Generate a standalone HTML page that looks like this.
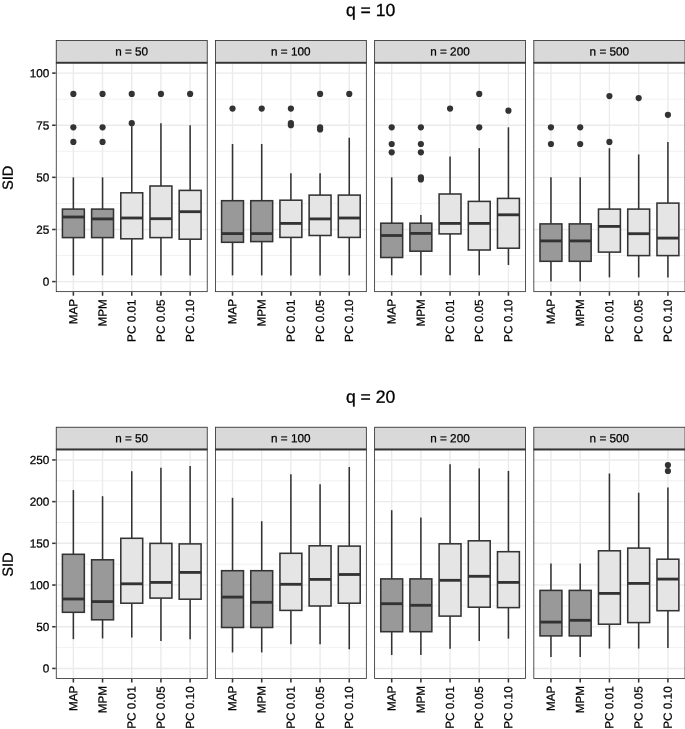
<!DOCTYPE html>
<html><head><meta charset="utf-8"><title>SID boxplots</title>
<style>
html,body{margin:0;padding:0;background:#fff;}
body{width:685px;height:729px;overflow:hidden;}
text{stroke:#000;stroke-width:0.25px;} text.t{stroke-width:0.3px;} text.yl{stroke-width:0.3px;}
svg{display:block;will-change:transform;font-family:"Liberation Sans",Arial,Helvetica,sans-serif;}
</style></head><body>
<svg width="685" height="729" viewBox="0 0 685 729">
<rect width="685" height="729" fill="#fff"/>
<text transform="translate(370.6,16) rotate(0.05)" text-anchor="middle" font-size="17.6" fill="#000" class="t">q = 10</text>
<text transform="translate(12.7,177.85) rotate(-89.95)" text-anchor="middle" font-size="14.67" fill="#000" class="yl">SID</text>
<line x1="52.18" x2="55.85" y1="281.6" y2="281.6" stroke="#333" stroke-width="1.55"/>
<text transform="translate(49.25,285.8) rotate(0.05)" text-anchor="end" font-size="11.73" fill="#000">0</text>
<line x1="52.18" x2="55.85" y1="229.48" y2="229.48" stroke="#333" stroke-width="1.55"/>
<text transform="translate(49.25,233.68) rotate(0.05)" text-anchor="end" font-size="11.73" fill="#000">25</text>
<line x1="52.18" x2="55.85" y1="177.35" y2="177.35" stroke="#333" stroke-width="1.55"/>
<text transform="translate(49.25,181.55) rotate(0.05)" text-anchor="end" font-size="11.73" fill="#000">50</text>
<line x1="52.18" x2="55.85" y1="125.23" y2="125.23" stroke="#333" stroke-width="1.55"/>
<text transform="translate(49.25,129.43) rotate(0.05)" text-anchor="end" font-size="11.73" fill="#000">75</text>
<line x1="52.18" x2="55.85" y1="73.1" y2="73.1" stroke="#333" stroke-width="1.55"/>
<text transform="translate(49.25,77.3) rotate(0.05)" text-anchor="end" font-size="11.73" fill="#000">100</text>
<rect x="55.85" y="62.65" width="151.8" height="229.4" fill="#fff"/>
<line x1="55.85" x2="207.65" y1="255.54" y2="255.54" stroke="#ebebeb" stroke-width="0.71"/>
<line x1="55.85" x2="207.65" y1="203.41" y2="203.41" stroke="#ebebeb" stroke-width="0.71"/>
<line x1="55.85" x2="207.65" y1="151.29" y2="151.29" stroke="#ebebeb" stroke-width="0.71"/>
<line x1="55.85" x2="207.65" y1="99.16" y2="99.16" stroke="#ebebeb" stroke-width="0.71"/>
<line x1="55.85" x2="207.65" y1="281.6" y2="281.6" stroke="#ebebeb" stroke-width="1.42"/>
<line x1="55.85" x2="207.65" y1="229.48" y2="229.48" stroke="#ebebeb" stroke-width="1.42"/>
<line x1="55.85" x2="207.65" y1="177.35" y2="177.35" stroke="#ebebeb" stroke-width="1.42"/>
<line x1="55.85" x2="207.65" y1="125.23" y2="125.23" stroke="#ebebeb" stroke-width="1.42"/>
<line x1="55.85" x2="207.65" y1="73.1" y2="73.1" stroke="#ebebeb" stroke-width="1.42"/>
<line x1="73.37" x2="73.37" y1="62.65" y2="292.05" stroke="#ebebeb" stroke-width="1.42"/>
<line x1="102.56" x2="102.56" y1="62.65" y2="292.05" stroke="#ebebeb" stroke-width="1.42"/>
<line x1="131.75" x2="131.75" y1="62.65" y2="292.05" stroke="#ebebeb" stroke-width="1.42"/>
<line x1="160.94" x2="160.94" y1="62.65" y2="292.05" stroke="#ebebeb" stroke-width="1.42"/>
<line x1="190.13" x2="190.13" y1="62.65" y2="292.05" stroke="#ebebeb" stroke-width="1.42"/>
<circle cx="73.37" cy="141.91" r="3.1" fill="#333"/>
<circle cx="73.37" cy="127.31" r="3.1" fill="#333"/>
<circle cx="73.37" cy="93.95" r="3.1" fill="#333"/>
<line x1="73.37" x2="73.37" y1="177.35" y2="209.1" stroke="#333" stroke-width="1.55"/>
<line x1="73.37" x2="73.37" y1="237.6" y2="275.4" stroke="#333" stroke-width="1.55"/>
<rect x="62.42" y="209.1" width="21.9" height="28.5" fill="#999999" stroke="#333" stroke-width="1.55" stroke-linejoin="miter"/>
<line x1="62.42" x2="84.32" y1="217" y2="217" stroke="#333" stroke-width="2.84"/>
<circle cx="102.56" cy="141.91" r="3.1" fill="#333"/>
<circle cx="102.56" cy="127.31" r="3.1" fill="#333"/>
<circle cx="102.56" cy="93.95" r="3.1" fill="#333"/>
<line x1="102.56" x2="102.56" y1="177.35" y2="209.1" stroke="#333" stroke-width="1.55"/>
<line x1="102.56" x2="102.56" y1="237.6" y2="275.4" stroke="#333" stroke-width="1.55"/>
<rect x="91.61" y="209.1" width="21.9" height="28.5" fill="#999999" stroke="#333" stroke-width="1.55" stroke-linejoin="miter"/>
<line x1="91.61" x2="113.51" y1="218.9" y2="218.9" stroke="#333" stroke-width="2.84"/>
<circle cx="131.75" cy="123.14" r="3.1" fill="#333"/>
<circle cx="131.75" cy="93.95" r="3.1" fill="#333"/>
<line x1="131.75" x2="131.75" y1="126.27" y2="192.8" stroke="#333" stroke-width="1.55"/>
<line x1="131.75" x2="131.75" y1="238.8" y2="275.4" stroke="#333" stroke-width="1.55"/>
<rect x="120.8" y="192.8" width="21.9" height="46" fill="#e5e5e5" stroke="#333" stroke-width="1.55" stroke-linejoin="miter"/>
<line x1="120.8" x2="142.7" y1="218" y2="218" stroke="#333" stroke-width="2.84"/>
<circle cx="160.94" cy="93.95" r="3.1" fill="#333"/>
<line x1="160.94" x2="160.94" y1="123.14" y2="186" stroke="#333" stroke-width="1.55"/>
<line x1="160.94" x2="160.94" y1="237.6" y2="275.4" stroke="#333" stroke-width="1.55"/>
<rect x="149.99" y="186" width="21.9" height="51.6" fill="#e5e5e5" stroke="#333" stroke-width="1.55" stroke-linejoin="miter"/>
<line x1="149.99" x2="171.89" y1="218.7" y2="218.7" stroke="#333" stroke-width="2.84"/>
<circle cx="190.13" cy="93.95" r="3.1" fill="#333"/>
<line x1="190.13" x2="190.13" y1="125.23" y2="190.4" stroke="#333" stroke-width="1.55"/>
<line x1="190.13" x2="190.13" y1="239.2" y2="275.4" stroke="#333" stroke-width="1.55"/>
<rect x="179.18" y="190.4" width="21.9" height="48.8" fill="#e5e5e5" stroke="#333" stroke-width="1.55" stroke-linejoin="miter"/>
<line x1="179.18" x2="201.08" y1="211.7" y2="211.7" stroke="#333" stroke-width="2.84"/>
<rect x="56.27" y="63.07" width="150.96" height="228.56" fill="none" stroke="#333" stroke-width="0.84"/>
<rect x="55.85" y="40.05" width="151.8" height="22.6" fill="#d9d9d9"/>
<rect x="56.27" y="40.47" width="150.96" height="21.76" fill="none" stroke="#333" stroke-width="0.84"/>
<line x1="55.85" x2="207.65" y1="62.7" y2="62.7" stroke="#333" stroke-width="1.45"/>
<text transform="translate(131.65,55.4) rotate(0.05)" text-anchor="middle" font-size="11.73" fill="#000">n = 50</text>
<line x1="73.37" x2="73.37" y1="292.05" y2="295.72" stroke="#333" stroke-width="1.55"/>
<text transform="translate(77.22,298.85) rotate(-89.95)" text-anchor="end" font-size="11.73" fill="#000">MAP</text>
<line x1="102.56" x2="102.56" y1="292.05" y2="295.72" stroke="#333" stroke-width="1.55"/>
<text transform="translate(106.41,299.15) rotate(-89.95)" text-anchor="end" font-size="11.73" fill="#000">MPM</text>
<line x1="131.75" x2="131.75" y1="292.05" y2="295.72" stroke="#333" stroke-width="1.55"/>
<text transform="translate(135.6,299.55) rotate(-89.95)" text-anchor="end" font-size="11.73" fill="#000">PC 0.01</text>
<line x1="160.94" x2="160.94" y1="292.05" y2="295.72" stroke="#333" stroke-width="1.55"/>
<text transform="translate(164.79,299.55) rotate(-89.95)" text-anchor="end" font-size="11.73" fill="#000">PC 0.05</text>
<line x1="190.13" x2="190.13" y1="292.05" y2="295.72" stroke="#333" stroke-width="1.55"/>
<text transform="translate(193.98,299.55) rotate(-89.95)" text-anchor="end" font-size="11.73" fill="#000">PC 0.10</text>
<rect x="215.02" y="62.65" width="151.75" height="229.4" fill="#fff"/>
<line x1="215.02" x2="366.77" y1="255.54" y2="255.54" stroke="#ebebeb" stroke-width="0.71"/>
<line x1="215.02" x2="366.77" y1="203.41" y2="203.41" stroke="#ebebeb" stroke-width="0.71"/>
<line x1="215.02" x2="366.77" y1="151.29" y2="151.29" stroke="#ebebeb" stroke-width="0.71"/>
<line x1="215.02" x2="366.77" y1="99.16" y2="99.16" stroke="#ebebeb" stroke-width="0.71"/>
<line x1="215.02" x2="366.77" y1="281.6" y2="281.6" stroke="#ebebeb" stroke-width="1.42"/>
<line x1="215.02" x2="366.77" y1="229.48" y2="229.48" stroke="#ebebeb" stroke-width="1.42"/>
<line x1="215.02" x2="366.77" y1="177.35" y2="177.35" stroke="#ebebeb" stroke-width="1.42"/>
<line x1="215.02" x2="366.77" y1="125.23" y2="125.23" stroke="#ebebeb" stroke-width="1.42"/>
<line x1="215.02" x2="366.77" y1="73.1" y2="73.1" stroke="#ebebeb" stroke-width="1.42"/>
<line x1="232.53" x2="232.53" y1="62.65" y2="292.05" stroke="#ebebeb" stroke-width="1.42"/>
<line x1="261.71" x2="261.71" y1="62.65" y2="292.05" stroke="#ebebeb" stroke-width="1.42"/>
<line x1="290.89" x2="290.89" y1="62.65" y2="292.05" stroke="#ebebeb" stroke-width="1.42"/>
<line x1="320.08" x2="320.08" y1="62.65" y2="292.05" stroke="#ebebeb" stroke-width="1.42"/>
<line x1="349.26" x2="349.26" y1="62.65" y2="292.05" stroke="#ebebeb" stroke-width="1.42"/>
<circle cx="232.53" cy="108.55" r="3.1" fill="#333"/>
<line x1="232.53" x2="232.53" y1="143.99" y2="200.7" stroke="#333" stroke-width="1.55"/>
<line x1="232.53" x2="232.53" y1="242.3" y2="275.4" stroke="#333" stroke-width="1.55"/>
<rect x="221.58" y="200.7" width="21.9" height="41.6" fill="#999999" stroke="#333" stroke-width="1.55" stroke-linejoin="miter"/>
<line x1="221.58" x2="243.48" y1="233.6" y2="233.6" stroke="#333" stroke-width="2.84"/>
<circle cx="261.71" cy="108.55" r="3.1" fill="#333"/>
<line x1="261.71" x2="261.71" y1="143.99" y2="200.7" stroke="#333" stroke-width="1.55"/>
<line x1="261.71" x2="261.71" y1="241.6" y2="275.4" stroke="#333" stroke-width="1.55"/>
<rect x="250.76" y="200.7" width="21.9" height="40.9" fill="#999999" stroke="#333" stroke-width="1.55" stroke-linejoin="miter"/>
<line x1="250.76" x2="272.66" y1="233.6" y2="233.6" stroke="#333" stroke-width="2.84"/>
<circle cx="290.89" cy="125.23" r="3.1" fill="#333"/>
<circle cx="290.89" cy="123.14" r="3.1" fill="#333"/>
<circle cx="290.89" cy="108.55" r="3.1" fill="#333"/>
<line x1="290.89" x2="290.89" y1="173.18" y2="200.2" stroke="#333" stroke-width="1.55"/>
<line x1="290.89" x2="290.89" y1="237.4" y2="275.4" stroke="#333" stroke-width="1.55"/>
<rect x="279.94" y="200.2" width="21.9" height="37.2" fill="#e5e5e5" stroke="#333" stroke-width="1.55" stroke-linejoin="miter"/>
<line x1="279.94" x2="301.84" y1="223.4" y2="223.4" stroke="#333" stroke-width="2.84"/>
<circle cx="320.08" cy="129.4" r="3.1" fill="#333"/>
<circle cx="320.08" cy="127.31" r="3.1" fill="#333"/>
<circle cx="320.08" cy="93.95" r="3.1" fill="#333"/>
<line x1="320.08" x2="320.08" y1="173.18" y2="195.1" stroke="#333" stroke-width="1.55"/>
<line x1="320.08" x2="320.08" y1="235.5" y2="275.4" stroke="#333" stroke-width="1.55"/>
<rect x="309.13" y="195.1" width="21.9" height="40.4" fill="#e5e5e5" stroke="#333" stroke-width="1.55" stroke-linejoin="miter"/>
<line x1="309.13" x2="331.03" y1="218.9" y2="218.9" stroke="#333" stroke-width="2.84"/>
<circle cx="349.26" cy="93.95" r="3.1" fill="#333"/>
<line x1="349.26" x2="349.26" y1="137.74" y2="195.1" stroke="#333" stroke-width="1.55"/>
<line x1="349.26" x2="349.26" y1="237.4" y2="275.4" stroke="#333" stroke-width="1.55"/>
<rect x="338.31" y="195.1" width="21.9" height="42.3" fill="#e5e5e5" stroke="#333" stroke-width="1.55" stroke-linejoin="miter"/>
<line x1="338.31" x2="360.21" y1="218" y2="218" stroke="#333" stroke-width="2.84"/>
<rect x="215.44" y="63.07" width="150.91" height="228.56" fill="none" stroke="#333" stroke-width="0.84"/>
<rect x="215.02" y="40.05" width="151.75" height="22.6" fill="#d9d9d9"/>
<rect x="215.44" y="40.47" width="150.91" height="21.76" fill="none" stroke="#333" stroke-width="0.84"/>
<line x1="215.02" x2="366.77" y1="62.7" y2="62.7" stroke="#333" stroke-width="1.45"/>
<text transform="translate(290.79,55.4) rotate(0.05)" text-anchor="middle" font-size="11.73" fill="#000">n = 100</text>
<line x1="232.53" x2="232.53" y1="292.05" y2="295.72" stroke="#333" stroke-width="1.55"/>
<text transform="translate(236.38,298.85) rotate(-89.95)" text-anchor="end" font-size="11.73" fill="#000">MAP</text>
<line x1="261.71" x2="261.71" y1="292.05" y2="295.72" stroke="#333" stroke-width="1.55"/>
<text transform="translate(265.56,299.15) rotate(-89.95)" text-anchor="end" font-size="11.73" fill="#000">MPM</text>
<line x1="290.89" x2="290.89" y1="292.05" y2="295.72" stroke="#333" stroke-width="1.55"/>
<text transform="translate(294.75,299.55) rotate(-89.95)" text-anchor="end" font-size="11.73" fill="#000">PC 0.01</text>
<line x1="320.08" x2="320.08" y1="292.05" y2="295.72" stroke="#333" stroke-width="1.55"/>
<text transform="translate(323.93,299.55) rotate(-89.95)" text-anchor="end" font-size="11.73" fill="#000">PC 0.05</text>
<line x1="349.26" x2="349.26" y1="292.05" y2="295.72" stroke="#333" stroke-width="1.55"/>
<text transform="translate(353.11,299.55) rotate(-89.95)" text-anchor="end" font-size="11.73" fill="#000">PC 0.10</text>
<rect x="374.19" y="62.65" width="151.75" height="229.4" fill="#fff"/>
<line x1="374.19" x2="525.94" y1="255.54" y2="255.54" stroke="#ebebeb" stroke-width="0.71"/>
<line x1="374.19" x2="525.94" y1="203.41" y2="203.41" stroke="#ebebeb" stroke-width="0.71"/>
<line x1="374.19" x2="525.94" y1="151.29" y2="151.29" stroke="#ebebeb" stroke-width="0.71"/>
<line x1="374.19" x2="525.94" y1="99.16" y2="99.16" stroke="#ebebeb" stroke-width="0.71"/>
<line x1="374.19" x2="525.94" y1="281.6" y2="281.6" stroke="#ebebeb" stroke-width="1.42"/>
<line x1="374.19" x2="525.94" y1="229.48" y2="229.48" stroke="#ebebeb" stroke-width="1.42"/>
<line x1="374.19" x2="525.94" y1="177.35" y2="177.35" stroke="#ebebeb" stroke-width="1.42"/>
<line x1="374.19" x2="525.94" y1="125.23" y2="125.23" stroke="#ebebeb" stroke-width="1.42"/>
<line x1="374.19" x2="525.94" y1="73.1" y2="73.1" stroke="#ebebeb" stroke-width="1.42"/>
<line x1="391.7" x2="391.7" y1="62.65" y2="292.05" stroke="#ebebeb" stroke-width="1.42"/>
<line x1="420.88" x2="420.88" y1="62.65" y2="292.05" stroke="#ebebeb" stroke-width="1.42"/>
<line x1="450.06" x2="450.06" y1="62.65" y2="292.05" stroke="#ebebeb" stroke-width="1.42"/>
<line x1="479.25" x2="479.25" y1="62.65" y2="292.05" stroke="#ebebeb" stroke-width="1.42"/>
<line x1="508.43" x2="508.43" y1="62.65" y2="292.05" stroke="#ebebeb" stroke-width="1.42"/>
<circle cx="391.7" cy="152.33" r="3.1" fill="#333"/>
<circle cx="391.7" cy="143.99" r="3.1" fill="#333"/>
<circle cx="391.7" cy="127.31" r="3.1" fill="#333"/>
<line x1="391.7" x2="391.7" y1="177.35" y2="223.2" stroke="#333" stroke-width="1.55"/>
<line x1="391.7" x2="391.7" y1="257.5" y2="275.3" stroke="#333" stroke-width="1.55"/>
<rect x="380.75" y="223.2" width="21.9" height="34.3" fill="#999999" stroke="#333" stroke-width="1.55" stroke-linejoin="miter"/>
<line x1="380.75" x2="402.65" y1="235.5" y2="235.5" stroke="#333" stroke-width="2.84"/>
<circle cx="420.88" cy="179.44" r="3.1" fill="#333"/>
<circle cx="420.88" cy="177.35" r="3.1" fill="#333"/>
<circle cx="420.88" cy="152.33" r="3.1" fill="#333"/>
<circle cx="420.88" cy="143.99" r="3.1" fill="#333"/>
<circle cx="420.88" cy="127.31" r="3.1" fill="#333"/>
<line x1="420.88" x2="420.88" y1="214.88" y2="223.2" stroke="#333" stroke-width="1.55"/>
<line x1="420.88" x2="420.88" y1="251.2" y2="275.3" stroke="#333" stroke-width="1.55"/>
<rect x="409.93" y="223.2" width="21.9" height="28" fill="#999999" stroke="#333" stroke-width="1.55" stroke-linejoin="miter"/>
<line x1="409.93" x2="431.83" y1="233.4" y2="233.4" stroke="#333" stroke-width="2.84"/>
<circle cx="450.06" cy="108.55" r="3.1" fill="#333"/>
<line x1="450.06" x2="450.06" y1="156.5" y2="194" stroke="#333" stroke-width="1.55"/>
<line x1="450.06" x2="450.06" y1="233.9" y2="275.3" stroke="#333" stroke-width="1.55"/>
<rect x="439.11" y="194" width="21.9" height="39.9" fill="#e5e5e5" stroke="#333" stroke-width="1.55" stroke-linejoin="miter"/>
<line x1="439.11" x2="461.01" y1="223.4" y2="223.4" stroke="#333" stroke-width="2.84"/>
<circle cx="479.25" cy="127.31" r="3.1" fill="#333"/>
<circle cx="479.25" cy="93.95" r="3.1" fill="#333"/>
<line x1="479.25" x2="479.25" y1="148.16" y2="201.4" stroke="#333" stroke-width="1.55"/>
<line x1="479.25" x2="479.25" y1="250" y2="275.3" stroke="#333" stroke-width="1.55"/>
<rect x="468.3" y="201.4" width="21.9" height="48.6" fill="#e5e5e5" stroke="#333" stroke-width="1.55" stroke-linejoin="miter"/>
<line x1="468.3" x2="490.2" y1="223.4" y2="223.4" stroke="#333" stroke-width="2.84"/>
<circle cx="508.43" cy="110.63" r="3.1" fill="#333"/>
<line x1="508.43" x2="508.43" y1="127.31" y2="198.4" stroke="#333" stroke-width="1.55"/>
<line x1="508.43" x2="508.43" y1="248.2" y2="265" stroke="#333" stroke-width="1.55"/>
<rect x="497.48" y="198.4" width="21.9" height="49.8" fill="#e5e5e5" stroke="#333" stroke-width="1.55" stroke-linejoin="miter"/>
<line x1="497.48" x2="519.38" y1="214.8" y2="214.8" stroke="#333" stroke-width="2.84"/>
<rect x="374.61" y="63.07" width="150.91" height="228.56" fill="none" stroke="#333" stroke-width="0.84"/>
<rect x="374.19" y="40.05" width="151.75" height="22.6" fill="#d9d9d9"/>
<rect x="374.61" y="40.47" width="150.91" height="21.76" fill="none" stroke="#333" stroke-width="0.84"/>
<line x1="374.19" x2="525.94" y1="62.7" y2="62.7" stroke="#333" stroke-width="1.45"/>
<text transform="translate(449.96,55.4) rotate(0.05)" text-anchor="middle" font-size="11.73" fill="#000">n = 200</text>
<line x1="391.7" x2="391.7" y1="292.05" y2="295.72" stroke="#333" stroke-width="1.55"/>
<text transform="translate(395.55,298.85) rotate(-89.95)" text-anchor="end" font-size="11.73" fill="#000">MAP</text>
<line x1="420.88" x2="420.88" y1="292.05" y2="295.72" stroke="#333" stroke-width="1.55"/>
<text transform="translate(424.73,299.15) rotate(-89.95)" text-anchor="end" font-size="11.73" fill="#000">MPM</text>
<line x1="450.06" x2="450.06" y1="292.05" y2="295.72" stroke="#333" stroke-width="1.55"/>
<text transform="translate(453.91,299.55) rotate(-89.95)" text-anchor="end" font-size="11.73" fill="#000">PC 0.01</text>
<line x1="479.25" x2="479.25" y1="292.05" y2="295.72" stroke="#333" stroke-width="1.55"/>
<text transform="translate(483.1,299.55) rotate(-89.95)" text-anchor="end" font-size="11.73" fill="#000">PC 0.05</text>
<line x1="508.43" x2="508.43" y1="292.05" y2="295.72" stroke="#333" stroke-width="1.55"/>
<text transform="translate(512.28,299.55) rotate(-89.95)" text-anchor="end" font-size="11.73" fill="#000">PC 0.10</text>
<rect x="533.4" y="62.65" width="152.07" height="229.4" fill="#fff"/>
<line x1="533.4" x2="685.47" y1="255.54" y2="255.54" stroke="#ebebeb" stroke-width="0.71"/>
<line x1="533.4" x2="685.47" y1="203.41" y2="203.41" stroke="#ebebeb" stroke-width="0.71"/>
<line x1="533.4" x2="685.47" y1="151.29" y2="151.29" stroke="#ebebeb" stroke-width="0.71"/>
<line x1="533.4" x2="685.47" y1="99.16" y2="99.16" stroke="#ebebeb" stroke-width="0.71"/>
<line x1="533.4" x2="685.47" y1="281.6" y2="281.6" stroke="#ebebeb" stroke-width="1.42"/>
<line x1="533.4" x2="685.47" y1="229.48" y2="229.48" stroke="#ebebeb" stroke-width="1.42"/>
<line x1="533.4" x2="685.47" y1="177.35" y2="177.35" stroke="#ebebeb" stroke-width="1.42"/>
<line x1="533.4" x2="685.47" y1="125.23" y2="125.23" stroke="#ebebeb" stroke-width="1.42"/>
<line x1="533.4" x2="685.47" y1="73.1" y2="73.1" stroke="#ebebeb" stroke-width="1.42"/>
<line x1="550.95" x2="550.95" y1="62.65" y2="292.05" stroke="#ebebeb" stroke-width="1.42"/>
<line x1="580.19" x2="580.19" y1="62.65" y2="292.05" stroke="#ebebeb" stroke-width="1.42"/>
<line x1="609.43" x2="609.43" y1="62.65" y2="292.05" stroke="#ebebeb" stroke-width="1.42"/>
<line x1="638.68" x2="638.68" y1="62.65" y2="292.05" stroke="#ebebeb" stroke-width="1.42"/>
<line x1="667.92" x2="667.92" y1="62.65" y2="292.05" stroke="#ebebeb" stroke-width="1.42"/>
<circle cx="550.95" cy="143.99" r="3.1" fill="#333"/>
<circle cx="550.95" cy="127.31" r="3.1" fill="#333"/>
<line x1="550.95" x2="550.95" y1="177.35" y2="223.9" stroke="#333" stroke-width="1.55"/>
<line x1="550.95" x2="550.95" y1="261.3" y2="281.6" stroke="#333" stroke-width="1.55"/>
<rect x="540" y="223.9" width="21.9" height="37.4" fill="#999999" stroke="#333" stroke-width="1.55" stroke-linejoin="miter"/>
<line x1="540" x2="561.9" y1="240.9" y2="240.9" stroke="#333" stroke-width="2.84"/>
<circle cx="580.19" cy="143.99" r="3.1" fill="#333"/>
<circle cx="580.19" cy="127.31" r="3.1" fill="#333"/>
<line x1="580.19" x2="580.19" y1="177.35" y2="223.9" stroke="#333" stroke-width="1.55"/>
<line x1="580.19" x2="580.19" y1="261.3" y2="281.6" stroke="#333" stroke-width="1.55"/>
<rect x="569.24" y="223.9" width="21.9" height="37.4" fill="#999999" stroke="#333" stroke-width="1.55" stroke-linejoin="miter"/>
<line x1="569.24" x2="591.14" y1="240.9" y2="240.9" stroke="#333" stroke-width="2.84"/>
<circle cx="609.43" cy="141.91" r="3.1" fill="#333"/>
<circle cx="609.43" cy="96.04" r="3.1" fill="#333"/>
<line x1="609.43" x2="609.43" y1="148.16" y2="209.1" stroke="#333" stroke-width="1.55"/>
<line x1="609.43" x2="609.43" y1="252.1" y2="277.4" stroke="#333" stroke-width="1.55"/>
<rect x="598.48" y="209.1" width="21.9" height="43" fill="#e5e5e5" stroke="#333" stroke-width="1.55" stroke-linejoin="miter"/>
<line x1="598.48" x2="620.38" y1="226.4" y2="226.4" stroke="#333" stroke-width="2.84"/>
<circle cx="638.68" cy="98.12" r="3.1" fill="#333"/>
<line x1="638.68" x2="638.68" y1="154.42" y2="209.1" stroke="#333" stroke-width="1.55"/>
<line x1="638.68" x2="638.68" y1="255.6" y2="277.4" stroke="#333" stroke-width="1.55"/>
<rect x="627.73" y="209.1" width="21.9" height="46.5" fill="#e5e5e5" stroke="#333" stroke-width="1.55" stroke-linejoin="miter"/>
<line x1="627.73" x2="649.63" y1="233.7" y2="233.7" stroke="#333" stroke-width="2.84"/>
<circle cx="667.92" cy="114.8" r="3.1" fill="#333"/>
<line x1="667.92" x2="667.92" y1="141.91" y2="203.1" stroke="#333" stroke-width="1.55"/>
<line x1="667.92" x2="667.92" y1="255.6" y2="277.4" stroke="#333" stroke-width="1.55"/>
<rect x="656.97" y="203.1" width="21.9" height="52.5" fill="#e5e5e5" stroke="#333" stroke-width="1.55" stroke-linejoin="miter"/>
<line x1="656.97" x2="678.87" y1="238.1" y2="238.1" stroke="#333" stroke-width="2.84"/>
<rect x="533.82" y="63.07" width="151.23" height="228.56" fill="none" stroke="#333" stroke-width="0.84"/>
<rect x="533.4" y="40.05" width="152.07" height="22.6" fill="#d9d9d9"/>
<rect x="533.82" y="40.47" width="151.23" height="21.76" fill="none" stroke="#333" stroke-width="0.84"/>
<line x1="533.4" x2="685.47" y1="62.7" y2="62.7" stroke="#333" stroke-width="1.45"/>
<text transform="translate(609.33,55.4) rotate(0.05)" text-anchor="middle" font-size="11.73" fill="#000">n = 500</text>
<line x1="550.95" x2="550.95" y1="292.05" y2="295.72" stroke="#333" stroke-width="1.55"/>
<text transform="translate(554.8,298.85) rotate(-89.95)" text-anchor="end" font-size="11.73" fill="#000">MAP</text>
<line x1="580.19" x2="580.19" y1="292.05" y2="295.72" stroke="#333" stroke-width="1.55"/>
<text transform="translate(584.04,299.15) rotate(-89.95)" text-anchor="end" font-size="11.73" fill="#000">MPM</text>
<line x1="609.43" x2="609.43" y1="292.05" y2="295.72" stroke="#333" stroke-width="1.55"/>
<text transform="translate(613.28,299.55) rotate(-89.95)" text-anchor="end" font-size="11.73" fill="#000">PC 0.01</text>
<line x1="638.68" x2="638.68" y1="292.05" y2="295.72" stroke="#333" stroke-width="1.55"/>
<text transform="translate(642.53,299.55) rotate(-89.95)" text-anchor="end" font-size="11.73" fill="#000">PC 0.05</text>
<line x1="667.92" x2="667.92" y1="292.05" y2="295.72" stroke="#333" stroke-width="1.55"/>
<text transform="translate(671.77,299.55) rotate(-89.95)" text-anchor="end" font-size="11.73" fill="#000">PC 0.10</text>
<text transform="translate(370.6,402.8) rotate(0.05)" text-anchor="middle" font-size="17.6" fill="#000" class="t">q = 20</text>
<text transform="translate(12.7,564.65) rotate(-89.95)" text-anchor="middle" font-size="14.67" fill="#000" class="yl">SID</text>
<line x1="52.18" x2="55.85" y1="668.43" y2="668.43" stroke="#333" stroke-width="1.55"/>
<text transform="translate(49.25,672.63) rotate(0.05)" text-anchor="end" font-size="11.73" fill="#000">0</text>
<line x1="52.18" x2="55.85" y1="626.73" y2="626.73" stroke="#333" stroke-width="1.55"/>
<text transform="translate(49.25,630.93) rotate(0.05)" text-anchor="end" font-size="11.73" fill="#000">50</text>
<line x1="52.18" x2="55.85" y1="585.03" y2="585.03" stroke="#333" stroke-width="1.55"/>
<text transform="translate(49.25,589.23) rotate(0.05)" text-anchor="end" font-size="11.73" fill="#000">100</text>
<line x1="52.18" x2="55.85" y1="543.33" y2="543.33" stroke="#333" stroke-width="1.55"/>
<text transform="translate(49.25,547.53) rotate(0.05)" text-anchor="end" font-size="11.73" fill="#000">150</text>
<line x1="52.18" x2="55.85" y1="501.63" y2="501.63" stroke="#333" stroke-width="1.55"/>
<text transform="translate(49.25,505.83) rotate(0.05)" text-anchor="end" font-size="11.73" fill="#000">200</text>
<line x1="52.18" x2="55.85" y1="459.93" y2="459.93" stroke="#333" stroke-width="1.55"/>
<text transform="translate(49.25,464.13) rotate(0.05)" text-anchor="end" font-size="11.73" fill="#000">250</text>
<rect x="55.85" y="449.45" width="151.8" height="229.4" fill="#fff"/>
<line x1="55.85" x2="207.65" y1="647.58" y2="647.58" stroke="#ebebeb" stroke-width="0.71"/>
<line x1="55.85" x2="207.65" y1="605.88" y2="605.88" stroke="#ebebeb" stroke-width="0.71"/>
<line x1="55.85" x2="207.65" y1="564.18" y2="564.18" stroke="#ebebeb" stroke-width="0.71"/>
<line x1="55.85" x2="207.65" y1="522.48" y2="522.48" stroke="#ebebeb" stroke-width="0.71"/>
<line x1="55.85" x2="207.65" y1="480.78" y2="480.78" stroke="#ebebeb" stroke-width="0.71"/>
<line x1="55.85" x2="207.65" y1="668.43" y2="668.43" stroke="#ebebeb" stroke-width="1.42"/>
<line x1="55.85" x2="207.65" y1="626.73" y2="626.73" stroke="#ebebeb" stroke-width="1.42"/>
<line x1="55.85" x2="207.65" y1="585.03" y2="585.03" stroke="#ebebeb" stroke-width="1.42"/>
<line x1="55.85" x2="207.65" y1="543.33" y2="543.33" stroke="#ebebeb" stroke-width="1.42"/>
<line x1="55.85" x2="207.65" y1="501.63" y2="501.63" stroke="#ebebeb" stroke-width="1.42"/>
<line x1="55.85" x2="207.65" y1="459.93" y2="459.93" stroke="#ebebeb" stroke-width="1.42"/>
<line x1="73.37" x2="73.37" y1="449.45" y2="678.85" stroke="#ebebeb" stroke-width="1.42"/>
<line x1="102.56" x2="102.56" y1="449.45" y2="678.85" stroke="#ebebeb" stroke-width="1.42"/>
<line x1="131.75" x2="131.75" y1="449.45" y2="678.85" stroke="#ebebeb" stroke-width="1.42"/>
<line x1="160.94" x2="160.94" y1="449.45" y2="678.85" stroke="#ebebeb" stroke-width="1.42"/>
<line x1="190.13" x2="190.13" y1="449.45" y2="678.85" stroke="#ebebeb" stroke-width="1.42"/>
<line x1="73.37" x2="73.37" y1="490.1" y2="554.3" stroke="#333" stroke-width="1.55"/>
<line x1="73.37" x2="73.37" y1="612.3" y2="639.15" stroke="#333" stroke-width="1.55"/>
<rect x="62.42" y="554.3" width="21.9" height="58" fill="#999999" stroke="#333" stroke-width="1.55" stroke-linejoin="miter"/>
<line x1="62.42" x2="84.32" y1="599" y2="599" stroke="#333" stroke-width="2.84"/>
<line x1="102.56" x2="102.56" y1="496.2" y2="559.8" stroke="#333" stroke-width="1.55"/>
<line x1="102.56" x2="102.56" y1="619.8" y2="638.45" stroke="#333" stroke-width="1.55"/>
<rect x="91.61" y="559.8" width="21.9" height="60" fill="#999999" stroke="#333" stroke-width="1.55" stroke-linejoin="miter"/>
<line x1="91.61" x2="113.51" y1="601.6" y2="601.6" stroke="#333" stroke-width="2.84"/>
<line x1="131.75" x2="131.75" y1="471.2" y2="538.3" stroke="#333" stroke-width="1.55"/>
<line x1="131.75" x2="131.75" y1="603.2" y2="637.55" stroke="#333" stroke-width="1.55"/>
<rect x="120.8" y="538.3" width="21.9" height="64.9" fill="#e5e5e5" stroke="#333" stroke-width="1.55" stroke-linejoin="miter"/>
<line x1="120.8" x2="142.7" y1="583.8" y2="583.8" stroke="#333" stroke-width="2.84"/>
<line x1="160.94" x2="160.94" y1="467.7" y2="543.4" stroke="#333" stroke-width="1.55"/>
<line x1="160.94" x2="160.94" y1="598.1" y2="641.05" stroke="#333" stroke-width="1.55"/>
<rect x="149.99" y="543.4" width="21.9" height="54.7" fill="#e5e5e5" stroke="#333" stroke-width="1.55" stroke-linejoin="miter"/>
<line x1="149.99" x2="171.89" y1="582.4" y2="582.4" stroke="#333" stroke-width="2.84"/>
<line x1="190.13" x2="190.13" y1="466" y2="543.9" stroke="#333" stroke-width="1.55"/>
<line x1="190.13" x2="190.13" y1="599.2" y2="639.15" stroke="#333" stroke-width="1.55"/>
<rect x="179.18" y="543.9" width="21.9" height="55.3" fill="#e5e5e5" stroke="#333" stroke-width="1.55" stroke-linejoin="miter"/>
<line x1="179.18" x2="201.08" y1="572.4" y2="572.4" stroke="#333" stroke-width="2.84"/>
<rect x="56.27" y="449.87" width="150.96" height="228.56" fill="none" stroke="#333" stroke-width="0.84"/>
<rect x="55.85" y="426.85" width="151.8" height="22.6" fill="#d9d9d9"/>
<rect x="56.27" y="427.27" width="150.96" height="21.76" fill="none" stroke="#333" stroke-width="0.84"/>
<line x1="55.85" x2="207.65" y1="449.5" y2="449.5" stroke="#333" stroke-width="1.45"/>
<text transform="translate(131.65,442.2) rotate(0.05)" text-anchor="middle" font-size="11.73" fill="#000">n = 50</text>
<line x1="73.37" x2="73.37" y1="678.85" y2="682.52" stroke="#333" stroke-width="1.55"/>
<text transform="translate(77.22,685.65) rotate(-89.95)" text-anchor="end" font-size="11.73" fill="#000">MAP</text>
<line x1="102.56" x2="102.56" y1="678.85" y2="682.52" stroke="#333" stroke-width="1.55"/>
<text transform="translate(106.41,685.95) rotate(-89.95)" text-anchor="end" font-size="11.73" fill="#000">MPM</text>
<line x1="131.75" x2="131.75" y1="678.85" y2="682.52" stroke="#333" stroke-width="1.55"/>
<text transform="translate(135.6,686.35) rotate(-89.95)" text-anchor="end" font-size="11.73" fill="#000">PC 0.01</text>
<line x1="160.94" x2="160.94" y1="678.85" y2="682.52" stroke="#333" stroke-width="1.55"/>
<text transform="translate(164.79,686.35) rotate(-89.95)" text-anchor="end" font-size="11.73" fill="#000">PC 0.05</text>
<line x1="190.13" x2="190.13" y1="678.85" y2="682.52" stroke="#333" stroke-width="1.55"/>
<text transform="translate(193.98,686.35) rotate(-89.95)" text-anchor="end" font-size="11.73" fill="#000">PC 0.10</text>
<rect x="215.02" y="449.45" width="151.75" height="229.4" fill="#fff"/>
<line x1="215.02" x2="366.77" y1="647.58" y2="647.58" stroke="#ebebeb" stroke-width="0.71"/>
<line x1="215.02" x2="366.77" y1="605.88" y2="605.88" stroke="#ebebeb" stroke-width="0.71"/>
<line x1="215.02" x2="366.77" y1="564.18" y2="564.18" stroke="#ebebeb" stroke-width="0.71"/>
<line x1="215.02" x2="366.77" y1="522.48" y2="522.48" stroke="#ebebeb" stroke-width="0.71"/>
<line x1="215.02" x2="366.77" y1="480.78" y2="480.78" stroke="#ebebeb" stroke-width="0.71"/>
<line x1="215.02" x2="366.77" y1="668.43" y2="668.43" stroke="#ebebeb" stroke-width="1.42"/>
<line x1="215.02" x2="366.77" y1="626.73" y2="626.73" stroke="#ebebeb" stroke-width="1.42"/>
<line x1="215.02" x2="366.77" y1="585.03" y2="585.03" stroke="#ebebeb" stroke-width="1.42"/>
<line x1="215.02" x2="366.77" y1="543.33" y2="543.33" stroke="#ebebeb" stroke-width="1.42"/>
<line x1="215.02" x2="366.77" y1="501.63" y2="501.63" stroke="#ebebeb" stroke-width="1.42"/>
<line x1="215.02" x2="366.77" y1="459.93" y2="459.93" stroke="#ebebeb" stroke-width="1.42"/>
<line x1="232.53" x2="232.53" y1="449.45" y2="678.85" stroke="#ebebeb" stroke-width="1.42"/>
<line x1="261.71" x2="261.71" y1="449.45" y2="678.85" stroke="#ebebeb" stroke-width="1.42"/>
<line x1="290.89" x2="290.89" y1="449.45" y2="678.85" stroke="#ebebeb" stroke-width="1.42"/>
<line x1="320.08" x2="320.08" y1="449.45" y2="678.85" stroke="#ebebeb" stroke-width="1.42"/>
<line x1="349.26" x2="349.26" y1="449.45" y2="678.85" stroke="#ebebeb" stroke-width="1.42"/>
<line x1="232.53" x2="232.53" y1="497.8" y2="570.7" stroke="#333" stroke-width="1.55"/>
<line x1="232.53" x2="232.53" y1="627.5" y2="652.45" stroke="#333" stroke-width="1.55"/>
<rect x="221.58" y="570.7" width="21.9" height="56.8" fill="#999999" stroke="#333" stroke-width="1.55" stroke-linejoin="miter"/>
<line x1="221.58" x2="243.48" y1="597.1" y2="597.1" stroke="#333" stroke-width="2.84"/>
<line x1="261.71" x2="261.71" y1="521.2" y2="570.7" stroke="#333" stroke-width="1.55"/>
<line x1="261.71" x2="261.71" y1="627.5" y2="652.45" stroke="#333" stroke-width="1.55"/>
<rect x="250.76" y="570.7" width="21.9" height="56.8" fill="#999999" stroke="#333" stroke-width="1.55" stroke-linejoin="miter"/>
<line x1="250.76" x2="272.66" y1="602.3" y2="602.3" stroke="#333" stroke-width="2.84"/>
<line x1="290.89" x2="290.89" y1="474.2" y2="553.3" stroke="#333" stroke-width="1.55"/>
<line x1="290.89" x2="290.89" y1="610.4" y2="644.35" stroke="#333" stroke-width="1.55"/>
<rect x="279.94" y="553.3" width="21.9" height="57.1" fill="#e5e5e5" stroke="#333" stroke-width="1.55" stroke-linejoin="miter"/>
<line x1="279.94" x2="301.84" y1="584.3" y2="584.3" stroke="#333" stroke-width="2.84"/>
<line x1="320.08" x2="320.08" y1="484.2" y2="545.8" stroke="#333" stroke-width="1.55"/>
<line x1="320.08" x2="320.08" y1="606" y2="644.35" stroke="#333" stroke-width="1.55"/>
<rect x="309.13" y="545.8" width="21.9" height="60.2" fill="#e5e5e5" stroke="#333" stroke-width="1.55" stroke-linejoin="miter"/>
<line x1="309.13" x2="331.03" y1="579.4" y2="579.4" stroke="#333" stroke-width="2.84"/>
<line x1="349.26" x2="349.26" y1="467" y2="546.1" stroke="#333" stroke-width="1.55"/>
<line x1="349.26" x2="349.26" y1="603.2" y2="649.25" stroke="#333" stroke-width="1.55"/>
<rect x="338.31" y="546.1" width="21.9" height="57.1" fill="#e5e5e5" stroke="#333" stroke-width="1.55" stroke-linejoin="miter"/>
<line x1="338.31" x2="360.21" y1="574.5" y2="574.5" stroke="#333" stroke-width="2.84"/>
<rect x="215.44" y="449.87" width="150.91" height="228.56" fill="none" stroke="#333" stroke-width="0.84"/>
<rect x="215.02" y="426.85" width="151.75" height="22.6" fill="#d9d9d9"/>
<rect x="215.44" y="427.27" width="150.91" height="21.76" fill="none" stroke="#333" stroke-width="0.84"/>
<line x1="215.02" x2="366.77" y1="449.5" y2="449.5" stroke="#333" stroke-width="1.45"/>
<text transform="translate(290.79,442.2) rotate(0.05)" text-anchor="middle" font-size="11.73" fill="#000">n = 100</text>
<line x1="232.53" x2="232.53" y1="678.85" y2="682.52" stroke="#333" stroke-width="1.55"/>
<text transform="translate(236.38,685.65) rotate(-89.95)" text-anchor="end" font-size="11.73" fill="#000">MAP</text>
<line x1="261.71" x2="261.71" y1="678.85" y2="682.52" stroke="#333" stroke-width="1.55"/>
<text transform="translate(265.56,685.95) rotate(-89.95)" text-anchor="end" font-size="11.73" fill="#000">MPM</text>
<line x1="290.89" x2="290.89" y1="678.85" y2="682.52" stroke="#333" stroke-width="1.55"/>
<text transform="translate(294.75,686.35) rotate(-89.95)" text-anchor="end" font-size="11.73" fill="#000">PC 0.01</text>
<line x1="320.08" x2="320.08" y1="678.85" y2="682.52" stroke="#333" stroke-width="1.55"/>
<text transform="translate(323.93,686.35) rotate(-89.95)" text-anchor="end" font-size="11.73" fill="#000">PC 0.05</text>
<line x1="349.26" x2="349.26" y1="678.85" y2="682.52" stroke="#333" stroke-width="1.55"/>
<text transform="translate(353.11,686.35) rotate(-89.95)" text-anchor="end" font-size="11.73" fill="#000">PC 0.10</text>
<rect x="374.19" y="449.45" width="151.75" height="229.4" fill="#fff"/>
<line x1="374.19" x2="525.94" y1="647.58" y2="647.58" stroke="#ebebeb" stroke-width="0.71"/>
<line x1="374.19" x2="525.94" y1="605.88" y2="605.88" stroke="#ebebeb" stroke-width="0.71"/>
<line x1="374.19" x2="525.94" y1="564.18" y2="564.18" stroke="#ebebeb" stroke-width="0.71"/>
<line x1="374.19" x2="525.94" y1="522.48" y2="522.48" stroke="#ebebeb" stroke-width="0.71"/>
<line x1="374.19" x2="525.94" y1="480.78" y2="480.78" stroke="#ebebeb" stroke-width="0.71"/>
<line x1="374.19" x2="525.94" y1="668.43" y2="668.43" stroke="#ebebeb" stroke-width="1.42"/>
<line x1="374.19" x2="525.94" y1="626.73" y2="626.73" stroke="#ebebeb" stroke-width="1.42"/>
<line x1="374.19" x2="525.94" y1="585.03" y2="585.03" stroke="#ebebeb" stroke-width="1.42"/>
<line x1="374.19" x2="525.94" y1="543.33" y2="543.33" stroke="#ebebeb" stroke-width="1.42"/>
<line x1="374.19" x2="525.94" y1="501.63" y2="501.63" stroke="#ebebeb" stroke-width="1.42"/>
<line x1="374.19" x2="525.94" y1="459.93" y2="459.93" stroke="#ebebeb" stroke-width="1.42"/>
<line x1="391.7" x2="391.7" y1="449.45" y2="678.85" stroke="#ebebeb" stroke-width="1.42"/>
<line x1="420.88" x2="420.88" y1="449.45" y2="678.85" stroke="#ebebeb" stroke-width="1.42"/>
<line x1="450.06" x2="450.06" y1="449.45" y2="678.85" stroke="#ebebeb" stroke-width="1.42"/>
<line x1="479.25" x2="479.25" y1="449.45" y2="678.85" stroke="#ebebeb" stroke-width="1.42"/>
<line x1="508.43" x2="508.43" y1="449.45" y2="678.85" stroke="#ebebeb" stroke-width="1.42"/>
<line x1="391.7" x2="391.7" y1="510.2" y2="578.9" stroke="#333" stroke-width="1.55"/>
<line x1="391.7" x2="391.7" y1="631.7" y2="655.05" stroke="#333" stroke-width="1.55"/>
<rect x="380.75" y="578.9" width="21.9" height="52.8" fill="#999999" stroke="#333" stroke-width="1.55" stroke-linejoin="miter"/>
<line x1="380.75" x2="402.65" y1="603.7" y2="603.7" stroke="#333" stroke-width="2.84"/>
<line x1="420.88" x2="420.88" y1="517.6" y2="578.9" stroke="#333" stroke-width="1.55"/>
<line x1="420.88" x2="420.88" y1="631.7" y2="655.05" stroke="#333" stroke-width="1.55"/>
<rect x="409.93" y="578.9" width="21.9" height="52.8" fill="#999999" stroke="#333" stroke-width="1.55" stroke-linejoin="miter"/>
<line x1="409.93" x2="431.83" y1="605.3" y2="605.3" stroke="#333" stroke-width="2.84"/>
<line x1="450.06" x2="450.06" y1="464.2" y2="543.8" stroke="#333" stroke-width="1.55"/>
<line x1="450.06" x2="450.06" y1="616.1" y2="648.75" stroke="#333" stroke-width="1.55"/>
<rect x="439.11" y="543.8" width="21.9" height="72.3" fill="#e5e5e5" stroke="#333" stroke-width="1.55" stroke-linejoin="miter"/>
<line x1="439.11" x2="461.01" y1="580.3" y2="580.3" stroke="#333" stroke-width="2.84"/>
<line x1="479.25" x2="479.25" y1="468.4" y2="540.8" stroke="#333" stroke-width="1.55"/>
<line x1="479.25" x2="479.25" y1="607.2" y2="641.05" stroke="#333" stroke-width="1.55"/>
<rect x="468.3" y="540.8" width="21.9" height="66.4" fill="#e5e5e5" stroke="#333" stroke-width="1.55" stroke-linejoin="miter"/>
<line x1="468.3" x2="490.2" y1="576.3" y2="576.3" stroke="#333" stroke-width="2.84"/>
<line x1="508.43" x2="508.43" y1="470.9" y2="551.7" stroke="#333" stroke-width="1.55"/>
<line x1="508.43" x2="508.43" y1="607.6" y2="638.65" stroke="#333" stroke-width="1.55"/>
<rect x="497.48" y="551.7" width="21.9" height="55.9" fill="#e5e5e5" stroke="#333" stroke-width="1.55" stroke-linejoin="miter"/>
<line x1="497.48" x2="519.38" y1="582.4" y2="582.4" stroke="#333" stroke-width="2.84"/>
<rect x="374.61" y="449.87" width="150.91" height="228.56" fill="none" stroke="#333" stroke-width="0.84"/>
<rect x="374.19" y="426.85" width="151.75" height="22.6" fill="#d9d9d9"/>
<rect x="374.61" y="427.27" width="150.91" height="21.76" fill="none" stroke="#333" stroke-width="0.84"/>
<line x1="374.19" x2="525.94" y1="449.5" y2="449.5" stroke="#333" stroke-width="1.45"/>
<text transform="translate(449.96,442.2) rotate(0.05)" text-anchor="middle" font-size="11.73" fill="#000">n = 200</text>
<line x1="391.7" x2="391.7" y1="678.85" y2="682.52" stroke="#333" stroke-width="1.55"/>
<text transform="translate(395.55,685.65) rotate(-89.95)" text-anchor="end" font-size="11.73" fill="#000">MAP</text>
<line x1="420.88" x2="420.88" y1="678.85" y2="682.52" stroke="#333" stroke-width="1.55"/>
<text transform="translate(424.73,685.95) rotate(-89.95)" text-anchor="end" font-size="11.73" fill="#000">MPM</text>
<line x1="450.06" x2="450.06" y1="678.85" y2="682.52" stroke="#333" stroke-width="1.55"/>
<text transform="translate(453.91,686.35) rotate(-89.95)" text-anchor="end" font-size="11.73" fill="#000">PC 0.01</text>
<line x1="479.25" x2="479.25" y1="678.85" y2="682.52" stroke="#333" stroke-width="1.55"/>
<text transform="translate(483.1,686.35) rotate(-89.95)" text-anchor="end" font-size="11.73" fill="#000">PC 0.05</text>
<line x1="508.43" x2="508.43" y1="678.85" y2="682.52" stroke="#333" stroke-width="1.55"/>
<text transform="translate(512.28,686.35) rotate(-89.95)" text-anchor="end" font-size="11.73" fill="#000">PC 0.10</text>
<rect x="533.4" y="449.45" width="152.07" height="229.4" fill="#fff"/>
<line x1="533.4" x2="685.47" y1="647.58" y2="647.58" stroke="#ebebeb" stroke-width="0.71"/>
<line x1="533.4" x2="685.47" y1="605.88" y2="605.88" stroke="#ebebeb" stroke-width="0.71"/>
<line x1="533.4" x2="685.47" y1="564.18" y2="564.18" stroke="#ebebeb" stroke-width="0.71"/>
<line x1="533.4" x2="685.47" y1="522.48" y2="522.48" stroke="#ebebeb" stroke-width="0.71"/>
<line x1="533.4" x2="685.47" y1="480.78" y2="480.78" stroke="#ebebeb" stroke-width="0.71"/>
<line x1="533.4" x2="685.47" y1="668.43" y2="668.43" stroke="#ebebeb" stroke-width="1.42"/>
<line x1="533.4" x2="685.47" y1="626.73" y2="626.73" stroke="#ebebeb" stroke-width="1.42"/>
<line x1="533.4" x2="685.47" y1="585.03" y2="585.03" stroke="#ebebeb" stroke-width="1.42"/>
<line x1="533.4" x2="685.47" y1="543.33" y2="543.33" stroke="#ebebeb" stroke-width="1.42"/>
<line x1="533.4" x2="685.47" y1="501.63" y2="501.63" stroke="#ebebeb" stroke-width="1.42"/>
<line x1="533.4" x2="685.47" y1="459.93" y2="459.93" stroke="#ebebeb" stroke-width="1.42"/>
<line x1="550.95" x2="550.95" y1="449.45" y2="678.85" stroke="#ebebeb" stroke-width="1.42"/>
<line x1="580.19" x2="580.19" y1="449.45" y2="678.85" stroke="#ebebeb" stroke-width="1.42"/>
<line x1="609.43" x2="609.43" y1="449.45" y2="678.85" stroke="#ebebeb" stroke-width="1.42"/>
<line x1="638.68" x2="638.68" y1="449.45" y2="678.85" stroke="#ebebeb" stroke-width="1.42"/>
<line x1="667.92" x2="667.92" y1="449.45" y2="678.85" stroke="#ebebeb" stroke-width="1.42"/>
<line x1="550.95" x2="550.95" y1="563.6" y2="590.4" stroke="#333" stroke-width="1.55"/>
<line x1="550.95" x2="550.95" y1="635.9" y2="656.95" stroke="#333" stroke-width="1.55"/>
<rect x="540" y="590.4" width="21.9" height="45.5" fill="#999999" stroke="#333" stroke-width="1.55" stroke-linejoin="miter"/>
<line x1="540" x2="561.9" y1="622.1" y2="622.1" stroke="#333" stroke-width="2.84"/>
<line x1="580.19" x2="580.19" y1="563.6" y2="590.4" stroke="#333" stroke-width="1.55"/>
<line x1="580.19" x2="580.19" y1="635.9" y2="656.95" stroke="#333" stroke-width="1.55"/>
<rect x="569.24" y="590.4" width="21.9" height="45.5" fill="#999999" stroke="#333" stroke-width="1.55" stroke-linejoin="miter"/>
<line x1="569.24" x2="591.14" y1="620.3" y2="620.3" stroke="#333" stroke-width="2.84"/>
<line x1="609.43" x2="609.43" y1="473.5" y2="550.8" stroke="#333" stroke-width="1.55"/>
<line x1="609.43" x2="609.43" y1="624.2" y2="648.55" stroke="#333" stroke-width="1.55"/>
<rect x="598.48" y="550.8" width="21.9" height="73.4" fill="#e5e5e5" stroke="#333" stroke-width="1.55" stroke-linejoin="miter"/>
<line x1="598.48" x2="620.38" y1="593.4" y2="593.4" stroke="#333" stroke-width="2.84"/>
<line x1="638.68" x2="638.68" y1="492.7" y2="548.1" stroke="#333" stroke-width="1.55"/>
<line x1="638.68" x2="638.68" y1="622.6" y2="648.55" stroke="#333" stroke-width="1.55"/>
<rect x="627.73" y="548.1" width="21.9" height="74.5" fill="#e5e5e5" stroke="#333" stroke-width="1.55" stroke-linejoin="miter"/>
<line x1="627.73" x2="649.63" y1="583.4" y2="583.4" stroke="#333" stroke-width="2.84"/>
<circle cx="667.92" cy="465" r="3.1" fill="#333"/>
<circle cx="667.92" cy="471" r="3.1" fill="#333"/>
<line x1="667.92" x2="667.92" y1="487.5" y2="559.2" stroke="#333" stroke-width="1.55"/>
<line x1="667.92" x2="667.92" y1="610.7" y2="648.05" stroke="#333" stroke-width="1.55"/>
<rect x="656.97" y="559.2" width="21.9" height="51.5" fill="#e5e5e5" stroke="#333" stroke-width="1.55" stroke-linejoin="miter"/>
<line x1="656.97" x2="678.87" y1="579.1" y2="579.1" stroke="#333" stroke-width="2.84"/>
<rect x="533.82" y="449.87" width="151.23" height="228.56" fill="none" stroke="#333" stroke-width="0.84"/>
<rect x="533.4" y="426.85" width="152.07" height="22.6" fill="#d9d9d9"/>
<rect x="533.82" y="427.27" width="151.23" height="21.76" fill="none" stroke="#333" stroke-width="0.84"/>
<line x1="533.4" x2="685.47" y1="449.5" y2="449.5" stroke="#333" stroke-width="1.45"/>
<text transform="translate(609.33,442.2) rotate(0.05)" text-anchor="middle" font-size="11.73" fill="#000">n = 500</text>
<line x1="550.95" x2="550.95" y1="678.85" y2="682.52" stroke="#333" stroke-width="1.55"/>
<text transform="translate(554.8,685.65) rotate(-89.95)" text-anchor="end" font-size="11.73" fill="#000">MAP</text>
<line x1="580.19" x2="580.19" y1="678.85" y2="682.52" stroke="#333" stroke-width="1.55"/>
<text transform="translate(584.04,685.95) rotate(-89.95)" text-anchor="end" font-size="11.73" fill="#000">MPM</text>
<line x1="609.43" x2="609.43" y1="678.85" y2="682.52" stroke="#333" stroke-width="1.55"/>
<text transform="translate(613.28,686.35) rotate(-89.95)" text-anchor="end" font-size="11.73" fill="#000">PC 0.01</text>
<line x1="638.68" x2="638.68" y1="678.85" y2="682.52" stroke="#333" stroke-width="1.55"/>
<text transform="translate(642.53,686.35) rotate(-89.95)" text-anchor="end" font-size="11.73" fill="#000">PC 0.05</text>
<line x1="667.92" x2="667.92" y1="678.85" y2="682.52" stroke="#333" stroke-width="1.55"/>
<text transform="translate(671.77,686.35) rotate(-89.95)" text-anchor="end" font-size="11.73" fill="#000">PC 0.10</text>
</svg>
</body></html>
